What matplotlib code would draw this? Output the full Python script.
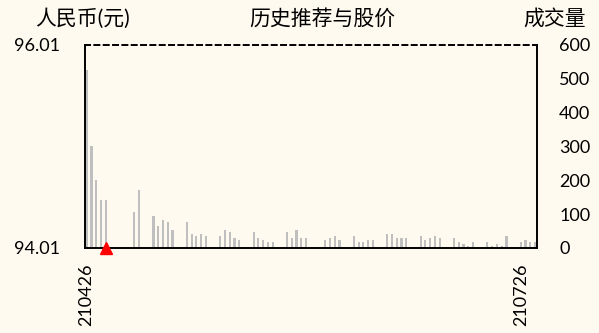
import matplotlib.pyplot as plt
import matplotlib.dates as mdates
import numpy as np
import datetime as dt

plt.rcParams['font.family'] = ['Lato', 'Noto Sans CJK SC', 'DejaVu Sans']

# trading days (yymmdd) and volume
days = ['210426', '210427', '210428', '210429', '210430',
        '210506', '210507',
        '210510', '210511', '210512', '210513', '210514',
        '210517', '210518', '210519', '210520', '210521',
        '210524', '210525', '210526', '210527', '210528',
        '210531', '210601', '210602', '210603', '210604',
        '210607', '210608', '210609', '210610', '210611',
        '210615', '210616', '210617', '210618',
        '210621', '210622', '210623', '210624', '210625',
        '210628', '210629', '210630', '210701', '210702',
        '210705', '210706', '210707', '210708', '210709',
        '210712', '210713', '210714', '210715', '210716',
        '210719', '210720', '210721', '210722', '210723',
        '210726', '210727', '210728', '210729']
volume = [526, 302, 201, 142, 142,
          106, 172,
          95, 65, 83, 77, 53,
          77, 41, 35, 41, 35,
          35, 53, 47, 30, 24,
          47, 30, 24, 18, 18,
          47, 30, 53, 30, 30,
          24, 30, 35, 24,
          35, 18, 18, 24, 24,
          41, 41, 30, 30, 30,
          35, 24, 30, 35, 30,
          30, 18, 12, 6, 18,
          18, 6, 12, 6, 35,
          18, 24, 18, 18]

price_ticks = [94.01, 96.01]
vol_ticks = [0, 100, 200, 300, 400, 500, 600]
x_labels = ['210426', '210726']

rec_day = '210430'
rec_price = 94.01

bg = '#FFFAF0'
dates = [dt.datetime.strptime(d, '%y%m%d') for d in days]
xnum = mdates.date2num(dates)

fig = plt.figure(figsize=(5.99, 3.33), dpi=100, facecolor=bg)
ax = fig.add_axes([0.1419, 0.2553, 0.7546, 0.6096])   # price, left
axv = ax.twinx()                                       # volume, right
ax.set_zorder(axv.get_zorder() + 1)
ax.patch.set_visible(False)
axv.set_facecolor(bg)

# volume bars
axv.bar(xnum, volume, width=0.45, color='#BFBFBF')
axv.set_ylim(0, 600)
axv.set_yticks(vol_ticks)
axv.set_yticklabels([str(v) for v in vol_ticks], ha='left')
axv.tick_params(axis='y', length=0, pad=16, labelsize=13)

ax.set_xlim(xnum[0] - 0.35, xnum[-1] + 0.4)
xt = [mdates.date2num(dt.datetime.strptime(s, '%y%m%d')) for s in x_labels]
ax.set_xticks(xt)
ax.set_xticklabels(x_labels, rotation=90, fontsize=13)
ax.tick_params(axis='x', length=0, pad=11)

# price axis
ax.set_ylim(price_ticks[0], price_ticks[-1])
ax.set_yticks(price_ticks)
ax.set_yticklabels(['%.2f' % p for p in price_ticks])
ax.tick_params(axis='y', length=0, pad=18, labelsize=13)
rx = mdates.date2num(dt.datetime.strptime(rec_day, '%y%m%d'))
ax.plot([rx], [rec_price], marker='^', color='red', markersize=8,
        linestyle='none', clip_on=False, zorder=5)

for a in (ax, axv):
    for s in a.spines.values():
        s.set_visible(False)
for name in ('left', 'right', 'bottom', 'top'):
    ax.spines[name].set_visible(True)
    ax.spines[name].set_linewidth(1.4)
    ax.spines[name].set_color('black')
ax.spines['top'].set_linestyle((0, (2.6, 2.2)))

fig.text(82.5 / 599, 1 - 19 / 333, '人民币(元)', ha='center', va='center', fontsize=15)
fig.text(322 / 599, 1 - 19 / 333, '历史推荐与股价', ha='center', va='center', fontsize=15)
fig.text(555 / 599, 1 - 19 / 333, '成交量', ha='center', va='center', fontsize=15)

fig.savefig('out.png', dpi=100, facecolor=bg)
